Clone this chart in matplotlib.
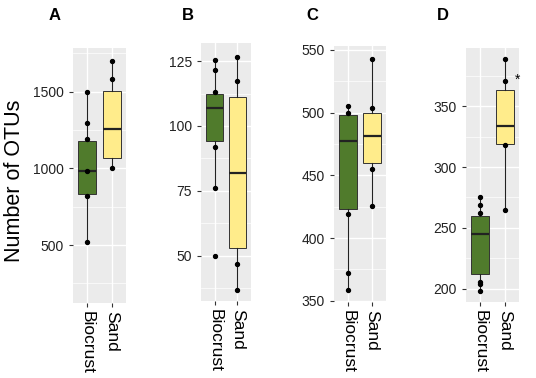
import matplotlib
matplotlib.use("Agg")
import matplotlib.pyplot as plt
from matplotlib.ticker import MultipleLocator

plt.rcParams["font.family"] = ["Liberation Sans", "DejaVu Sans"]

groups = ["Biocrust", "Sand"]
panel_names = ["A", "B", "C", "D"]

# box stats per panel: (whisker low, q1, median, q3, whisker high) for Biocrust, Sand
stats_a = [(517, 833, 985, 1180, 1500), (1004, 1065, 1254, 1505, 1702)]
stats_b = [(75.9, 94.2, 106.8, 112.2, 125.4), (36.7, 52.9, 82.0, 111.3, 126.5)]
stats_c = [(358.8, 423, 477.5, 498.2, 504.8), (425.3, 459.8, 481.5, 499.5, 542.8)]
stats_d = [(198.4, 212, 244.8, 259.6, 275.5), (264.4, 319.2, 334.1, 363.7, 389)]

# individual samples
points_a = [[517, 819, 985, 1191, 1297, 1500], [1004, 1585, 1702]]
points_b = [[49.9, 75.9, 92, 113, 121.4, 125.4], [36.7, 46.7, 117.4, 126.5]]
points_c = [[358.8, 372, 419.3, 499.5, 504.8], [425.3, 455, 503.5, 542.8]]
points_d = [[198.4, 203.8, 205.8, 262.4, 269, 275.5], [264.4, 318.4, 371, 389]]

ylims = [(122, 1785), (32.5, 132), (349, 553), (189, 398)]
major_steps = [500, 25, 50, 50]
tick_ranges = [(500, 1500), (50, 125), (350, 550), (200, 350)]

fill_colors = ["#507B2C", "#FFEC8B"]
W, H = 536, 378
# pixel boxes: left, right, top, bottom
boxes_px = [(73, 126, 48, 303), (201, 251, 43, 301), (334, 386, 46, 302), (466, 519, 48, 302)]
title_x = [55, 188, 312, 443]

fig = plt.figure(figsize=(W / 100, H / 100), dpi=100)

all_stats = [stats_a, stats_b, stats_c, stats_d]
all_points = [points_a, points_b, points_c, points_d]

for i in range(4):
    l, r, t, b = boxes_px[i]
    ax = fig.add_axes([l / W, 1 - b / H, (r - l) / W, (b - t) / H])
    ax.set_facecolor("#EBEBEB")
    for s in ax.spines.values():
        s.set_visible(False)

    lo, hi = ylims[i]
    step = major_steps[i]
    ax.set_ylim(lo, hi)
    ax.set_xlim(0.4, 2.6)
    ax.yaxis.set_major_locator(MultipleLocator(step))
    ax.yaxis.set_minor_locator(MultipleLocator(step / 2))
    ax.grid(which="major", color="white", linewidth=1.0)
    ax.grid(which="minor", axis="y", color="white", linewidth=0.5)
    ax.set_axisbelow(True)

    bxp_stats = []
    for g, st in zip(groups, all_stats[i]):
        wl, q1, med, q3, wh = st
        bxp_stats.append(dict(label=g, whislo=wl, q1=q1, med=med, q3=q3, whishi=wh, fliers=[]))
    bp = ax.bxp(bxp_stats, positions=[1, 2], widths=0.75, patch_artist=True,
                showcaps=False, showfliers=False,
                boxprops=dict(edgecolor="#333333", linewidth=0.7),
                medianprops=dict(color="#222222", linewidth=1.6),
                whiskerprops=dict(color="#222222", linewidth=0.8))
    for patch, c in zip(bp["boxes"], fill_colors):
        patch.set_facecolor(c)

    for k, pts in enumerate(all_points[i]):
        ax.scatter([k + 1] * len(pts), pts, s=8, color="black", zorder=5)

    ax.set_xticks([1, 2])
    ax.set_xticklabels(groups, rotation=270, fontsize=12.5, color="black")
    ax.tick_params(axis="x", length=3, color="#333333", pad=3)
    ax.tick_params(axis="y", which="major", length=3, color="#333333", labelsize=10, labelcolor="#222222")
    ax.tick_params(axis="y", which="minor", length=0)
    # only show ticks inside the labelled range
    t0, t1 = tick_ranges[i]
    ax.set_yticks([v for v in range(int(t0), int(t1) + 1, int(step))])

    fig.text(title_x[i] / W, 1 - 15 / H, panel_names[i], fontsize=12, fontweight="bold",
             ha="center", va="center")

    if i == 3:
        ax.text(2.55, 372, "*", fontsize=10, ha="center", va="center")

fig.text(15 / W, 1 - 181 / H, "Number of OTUs", fontsize=15.5, rotation=90,
         ha="center", va="center")

fig.savefig("out.png", dpi=100)
